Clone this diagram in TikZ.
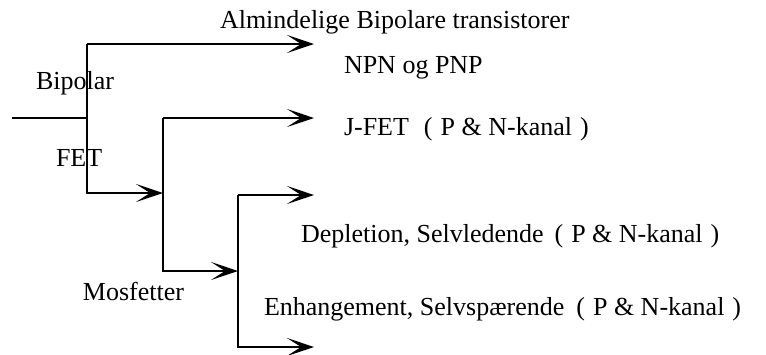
\documentclass[tikz,border=0pt]{standalone}
\usepackage{fontspec}
\setmainfont{Liberation Serif}
\usetikzlibrary{arrows.meta}
\newcommand{\kanal}{(\hspace{4pt}P \& N-kanal\hspace{4pt})}

\begin{document}
\begin{tikzpicture}[x=0.5pt, y=-0.5pt, line width=1pt,
		>={Stealth[length=13.5pt, width=9pt, inset=7pt]},
		lbl/.style={anchor=base west, inner sep=0pt, font=\fontsize{13}{15}\selectfont}]
			\useasboundingbox (0,0) rectangle (766,354);
			% junctions
			\coordinate (In) at (12,118);
			\coordinate (S1t) at (87,44);
			\coordinate (S1) at (87,118);
			\coordinate (S1b) at (87,193);
			\coordinate (S2t) at (163,118);
			\coordinate (S2) at (163,193);
			\coordinate (S2b) at (163,271);
			\coordinate (S3t) at (238,195);
			\coordinate (S3) at (238,271);
			\coordinate (S3b) at (238,347);
			\coordinate (A1) at (314,44);
			\coordinate (A2) at (314,118);
			\coordinate (A3) at (314,195);
			\coordinate (A4) at (314,347);
			\draw (In) -- (S1);
			\draw[->] (S1t) -- (A1);
			\draw[->] (S1t) -- (S1b) -- (S2);
			\draw[->] (S2t) -- (A2);
			\draw[->] (S2t) -- (S2b) -- (S3);
			\draw[->] (S3t) -- (A3);
			\draw[->] (S3t) -- (S3b) -- (A4);
			\node[lbl](Alm) at (219,28){Almindelige Bipolare transistorer};
			\node[lbl](Npn) at (343,73){NPN og PNP};
			\node[lbl](Bip) at (35,89){Bipolar};
			\node[lbl](Fet) at (55,166){FET};
			\node[lbl](Jfet) at (343,135){J-FET\hspace{7.5pt}\kanal};
			\node[lbl](Dep) at (300,242){Depletion, Selvledende\hspace{5.5pt}\kanal};
			\node[lbl](Mos) at (82,300){Mosfetter};
			\node[lbl](Enh) at (263,315){Enhangement, Selvspærende\hspace{6pt}\kanal};
		\end{tikzpicture}
\end{document}
